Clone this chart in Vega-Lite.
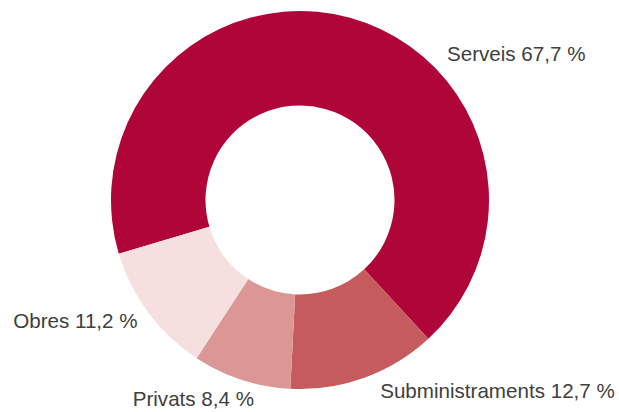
{
  "$schema": "https://vega.github.io/schema/vega-lite/v6.json",
  "autosize": {"type": "none"},
  "width": 600,
  "height": 400,
  "padding": {"left": 0, "top": 0, "right": 19, "bottom": 12},
  "background": "white",
  "view": {"stroke": null},
  "data": {
    "values": [
      {"n": 1, "category": "Serveis", "value": 67.7, "label": "Serveis 67,7 %"},
      {"n": 2, "category": "Subministraments", "value": 12.7, "label": "Subministraments 12,7 %"},
      {"n": 3, "category": "Privats", "value": 8.4, "label": "Privats 8,4 %"},
      {"n": 4, "category": "Obres", "value": 11.2, "label": "Obres 11,2 %"}
    ]
  },
  "encoding": {
    "theta": {"field": "value", "type": "quantitative", "stack": true, "scale": {"range": [-1.8588, 4.4244]}},
    "order": {"field": "n", "type": "quantitative"}
  },
  "layer": [
    {
      "mark": {"type": "arc", "outerRadius": 189, "innerRadius": 94.5},
      "encoding": {
        "color": {
          "field": "category",
          "type": "nominal",
          "legend": null,
          "scale": {
            "domain": ["Serveis", "Subministraments", "Privats", "Obres"],
            "range": ["#b00538", "#c65b5f", "#da9795", "#f5e0df"]
          }
        }
      }
    },
    {
      "mark": {
        "type": "text",
        "radius": 200,
        "font": "Liberation Sans",
        "fontSize": 20.6,
        "fill": "#404040",
        "baseline": "alphabetic",
        "align": {"expr": "datum.category == 'Obres' || datum.category == 'Privats' ? 'right' : 'left'"},
        "dx": {"expr": "datum.category == 'Serveis' ? 94 : datum.category == 'Subministraments' ? 12 : datum.category == 'Privats' ? 16 : -2"},
        "dy": {"expr": "datum.category == 'Serveis' ? 54 : datum.category == 'Subministraments' ? 10 : datum.category == 'Privats' ? 16 : 9"}
      },
      "encoding": {
        "text": {"field": "label", "type": "nominal"}
      }
    }
  ]
}
